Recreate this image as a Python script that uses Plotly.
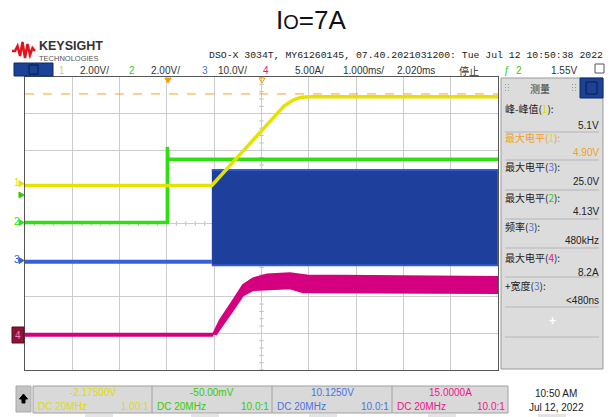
import plotly.graph_objects as go

W, H = 611, 417
def px(x): return x / W
def py(y): return 1 - y / H

# ---------------- scope settings ----------------
ch_scale = {1: 2.0, 2: 2.0, 3: 10.0, 4: 5.0}          # per division
ch_offset = {1: -2.175, 2: -0.05, 3: 10.125, 4: 15.0}  # value at screen centre
t_center, t_per_div = 2.02, 1.0                       # ms
x_range = [t_center - 5 * t_per_div, t_center + 5 * t_per_div]
def to_div(ch, vals): return [(v - ch_offset[ch]) / ch_scale[ch] for v in vals]

# ---------------- waveform data (ms, V / A) ----------------
ch1_t = [-2.98, 0.97, 1.5, 2.0, 2.5, 2.7, 2.85, 3.0, 7.02]
ch1_v = [-0.1, -0.1, 1.41, 2.84, 4.25, 4.58, 4.71, 4.75, 4.75]
ch1_max = 4.90

ch2_t = [-2.98, 0.03, 0.03, 0.045, 7.02]
ch2_v = [0.0, 0.0, 4.13, 3.46, 3.46]

ch3_idle_t = [-2.98, 0.97]
ch3_idle_v = [-0.3, -0.3]
ch3_env_t = [0.97, 7.02]
ch3_hi = [24.7, 24.7]
ch3_lo = [-1.3, -1.3]

ch4_idle_t = [-2.98, 1.0]
ch4_idle_v = [-0.2, -0.2]
ch4_hi_t = [0.99, 1.14, 1.42, 1.63, 1.84, 2.14, 2.62, 2.98, 7.02]
ch4_hi = [-0.2, 1.8, 4.5, 6.6, 7.5, 8.05, 8.2, 7.9, 7.7]
ch4_lo_t = [1.05, 1.42, 1.63, 1.84, 2.62, 2.9, 7.02]
ch4_lo = [-0.2, 3.2, 5.2, 5.9, 6.15, 5.6, 5.5]

# ---------------- text data ----------------
title_text = "I<span style='font-size:20px'>O</span>=7A"
info_line = "DSO-X 3034T, MY61260145, 07.40.2021031200: Tue Jul 12 10:50:38 2022"
settings = [("1", 58, "#e0dc00"), ("2.00V/", 79, "#333"), ("2", 128, "#33cc00"),
            ("2.00V/", 150, "#333"), ("3", 201, "#4a72e0"), ("10.0V/", 217, "#333"),
            ("4", 262, "#e0148c"), ("5.00A/", 294, "#333"), ("1.000ms/", 342, "#333"),
            ("2.020ms", 396, "#333"), ("停止", 458, "#333"), ("ƒ", 503, "#33cc00"),
            ("2", 515, "#33cc00"), ("1.55V", 550, "#333")]
meas_labels = ["峰-峰值(<span style='color:#e0dc00'>1</span>):",
               "最大电平(<span style='color:#e0dc00'>1</span>):",
               "最大电平(<span style='color:#4a72e0'>3</span>):",
               "最大电平(<span style='color:#33cc00'>2</span>):",
               "频率(<span style='color:#4a72e0'>3</span>):",
               "最大电平(<span style='color:#e0148c'>4</span>):",
               "+宽度(<span style='color:#4a72e0'>3</span>):"]
meas_values = ["5.1V", "4.90V", "25.0V", "4.13V", "480kHz", "8.2A", "<480ns"]
meas_colors = ["#222", "#f0a020", "#222", "#222", "#222", "#222", "#222"]
meas_label_y = [109, 138, 167, 198, 227, 257, 285]
meas_value_y = [125, 153, 182, 212, 241, 272, 300]
meas_sep_y = [132, 160, 190, 219, 248, 277, 307, 337]

ch_box_top = ["-2.17500V", "-50.00mV", "10.1250V", "15.0000A"]
ch_box_ratio = ["1.00:1", "10.0:1", "10.0:1", "10.0:1"]
ch_box_color = ["#e0dc00", "#33cc00", "#4a72e0", "#f0148c"]
date_lines = ["10:50 AM", "Jul 12, 2022"]

Y1, G2, B3, M4 = "#e6e200", "#2ee010", "#3562d8", "#d4007f"
SANS = "Liberation Sans, Noto Sans CJK SC"
CJK = "Noto Sans CJK SC"

fig = go.Figure()

# ch4 (magenta) idle + envelope
fig.add_trace(go.Scatter(x=ch4_idle_t, y=to_div(4, ch4_idle_v), mode="lines",
                         line=dict(color=M4, width=4)))
fig.add_trace(go.Scatter(x=ch4_hi_t + ch4_lo_t[::-1], y=to_div(4, ch4_hi + ch4_lo[::-1]),
                         mode="lines", fill="toself", fillcolor=M4,
                         line=dict(color=M4, width=2)))
# ch3 (blue)
fig.add_trace(go.Scatter(x=ch3_idle_t, y=to_div(3, ch3_idle_v), mode="lines",
                         line=dict(color=B3, width=4)))
fig.add_trace(go.Scatter(x=ch3_env_t + ch3_env_t[::-1], y=to_div(3, ch3_hi + ch3_lo[::-1]),
                         mode="lines", fill="toself", fillcolor="#1f3f9c",
                         line=dict(color="#2f5ad0", width=2)))
# ch2 (green)
fig.add_trace(go.Scatter(x=ch2_t, y=to_div(2, ch2_v), mode="lines",
                         line=dict(color=G2, width=3.5)))
# ch1 (yellow)
fig.add_trace(go.Scatter(x=ch1_t, y=to_div(1, ch1_v), mode="lines",
                         line=dict(color=Y1, width=3.5)))

shapes = []
ann = []

# centre-axis tick marks
tick_path = ""
for k in range(-25, 26):
    xx = t_center + k * 0.2
    tick_path += f"M{xx},-0.06 L{xx},0.06 "
for k in range(-20, 21):
    yy = k * 0.2
    tick_path += f"M{t_center-0.045},{yy} L{t_center+0.045},{yy} "
shapes.append(dict(type="path", xref="x", yref="y", path=tick_path,
                   line=dict(color="#b8b8b8", width=1), layer="below"))

# max level dashed line for ch1
lvl = to_div(1, [ch1_max])[0]
shapes.append(dict(type="line", xref="x", yref="y", x0=x_range[0], x1=x_range[1],
                   y0=lvl, y1=lvl, line=dict(color="#ffa020", width=1, dash="dash")))

def paper_rect(x0, y0, x1, y1, fill, line="rgba(0,0,0,0)", lw=1):
    shapes.append(dict(type="rect", xref="paper", yref="paper", x0=px(x0), x1=px(x1),
                       y0=py(y1), y1=py(y0), fillcolor=fill, line=dict(color=line, width=lw)))

def paper_line(x0, y0, x1, y1, color, lw=1):
    shapes.append(dict(type="line", xref="paper", yref="paper", x0=px(x0), x1=px(x1),
                       y0=py(y0), y1=py(y1), line=dict(color=color, width=lw)))

def paper_path(pts, color, lw=1, fill=None):
    p = "M" + " L".join(f"{px(a)},{py(b)}" for a, b in pts)
    if fill:
        p += " Z"
    d = dict(type="path", xref="paper", yref="paper", path=p, line=dict(color=color, width=lw))
    if fill:
        d["fillcolor"] = fill
    shapes.append(d)

def text(s, x, y, size=10, color="#333", anchor="left", family=SANS, bold=False):
    if bold:
        s = "<b>" + s + "</b>"
    ann.append(dict(text=s, x=px(x), y=py(y), xref="paper", yref="paper", showarrow=False,
                    xanchor=anchor, yanchor="middle", font=dict(size=size, color=color, family=family),
                    borderpad=0))

# title
text(title_text, 311, 20, size=26, color="#111", anchor="center", family="Liberation Sans")

# Keysight logo
wave = [(12, 51), (15, 51), (17.5, 46), (20, 56), (22.5, 42), (25, 58), (27.5, 44), (30, 55), (32.5, 48), (35, 51)]
paper_path(wave, "#e3141e", 2.5)
text("KEYSIGHT", 38, 46.5, size=12.5, color="#333", bold=True)
text("TECHNOLOGIES", 38, 58.5, size=7.5, color="#555")

# info line
text(info_line, 208, 55, size=9.8, color="#222", family="Liberation Mono")

# settings row
paper_rect(14, 63, 53, 76, "#1b4296", "#0e2a6a")
paper_rect(29, 65, 38, 74, "#1b4296", "#0a1a40")
for s, x, c in settings:
    fam = CJK if s == "停止" else SANS
    text(s, x, 70, size=10, color=c, family=fam)
paper_rect(595, 64, 604, 73, "rgba(0,0,0,0)", "#555")

# trigger markers at top
paper_path([(165, 78), (171, 78), (168, 83)], "#ff9a00", 1, fill="#ff9a00")
paper_path([(259, 78), (265, 78), (262, 83)], "#ff9a00", 1, fill="rgba(0,0,0,0)")

# channel ground markers
for lbl, ch, c in [("1", 1, Y1), ("2", 2, G2), ("3", 3, B3)]:
    gy = -ch_offset[ch] / ch_scale[ch]
    gpx = 223.5 - gy * 36.6
    text(lbl, 13, gpx - 1, size=10, color=c)
    paper_path([(19, gpx - 3), (24, gpx), (19, gpx + 3)], c, 1, fill=c)
paper_rect(12, 327, 24, 343, "#8b1535", "#5a0a20")
text("4", 14, 335, size=10, color="#ff7ac0")
# trigger level marker for ch2
paper_path([(19, 192), (24, 195), (19, 198)], "#33cc00", 1, fill="#33cc00")

# measurement panel
paper_rect(501, 78, 603, 369, "#dcdcdc", "#9a9a9a")
paper_rect(580, 78, 603, 98, "#1b4296", "#0e2a6a")
paper_rect(586, 82, 597, 94, "#1b4296", "#0a1a40")
text("测量", 540, 88, size=10, color="#333", anchor="center", family=CJK)
for gx in (505, 508, 572, 575):
    for gy in (84, 87, 90):
        paper_rect(gx, gy, gx + 1, gy + 1, "#9a9a9a")
for lab, val, c, ly, vy in zip(meas_labels, meas_values, meas_colors, meas_label_y, meas_value_y):
    text(lab, 504, ly, size=10, color=c, family=CJK)
    text(val, 600, vy, size=10, color=c, anchor="right")
for sy in meas_sep_y:
    paper_line(505, sy, 599, sy, "#b4b4b4", 1)
text("+", 552, 321, size=12, color="#ffffff", anchor="center", bold=True)

# bottom channel bar
paper_rect(16, 386, 31, 412, "#c4c4c4", "#a8a8a8")
paper_path([(23.5, 394), (27.5, 399), (25, 399), (25, 403), (22, 403), (22, 399), (19.5, 399)],
           "#000", 1, fill="#000")
bx = [33, 152, 272, 392, 508]
paper_rect(33, 386, 508, 413, "#d9d9d9", "#a0a0a0")
for i in range(4):
    if i > 0:
        paper_line(bx[i], 386, bx[i], 413, "#a0a0a0", 1)
    text(ch_box_top[i], (bx[i] + bx[i + 1]) / 2, 392, size=10, color=ch_box_color[i], anchor="center")
    text("DC 20MHz", bx[i] + 4, 406, size=10, color=ch_box_color[i])
    text(ch_box_ratio[i], bx[i + 1] - 2, 406, size=10, color=ch_box_color[i], anchor="right")
for tx in [99, 205, 323, 442, 552]:
    paper_rect(tx - 14, 414, tx + 14, 417, "#e4e4e4")
text(date_lines[0], 556, 393, size=10, color="#222", anchor="center")
text(date_lines[1], 556, 407, size=10, color="#222", anchor="center")

fig.update_layout(
    width=W, height=H, margin=dict(l=0, r=0, t=0, b=0),
    paper_bgcolor="white", plot_bgcolor="white", showlegend=False,
    hovermode=False, shapes=shapes, annotations=ann,
    xaxis=dict(domain=[px(25), px(498)], range=x_range, tick0=x_range[0], dtick=t_per_div,
               showgrid=True, gridcolor="#cccccc", gridwidth=1, zeroline=False,
               showticklabels=False, ticks="", showline=True, linecolor="#555",
               linewidth=1, mirror=True, fixedrange=True),
    yaxis=dict(domain=[py(370), py(77)], range=[-4, 4], dtick=1,
               showgrid=True, gridcolor="#cccccc", gridwidth=1, zeroline=False,
               showticklabels=False, ticks="", showline=True, linecolor="#555",
               linewidth=1, mirror=True, fixedrange=True),
)

fig.write_html("out.html")
